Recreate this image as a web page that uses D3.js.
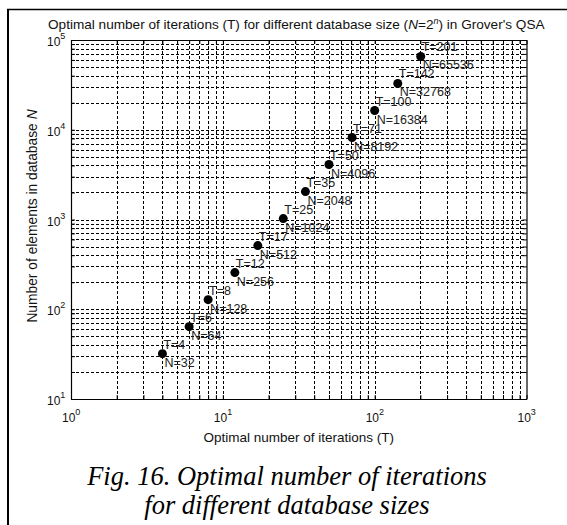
<!DOCTYPE html>
<html>
<head>
<meta charset="utf-8">
<script src="https://cdn.jsdelivr.net/npm/d3@7"></script>
<style>
body { margin: 0; background: #fff; }
svg { display: block; }
</style>
</head>
<body>
<div id="chart"></div>
<script>
// optimal iterations vs database size
var iterations = [4, 6, 8, 12, 17, 25, 35, 50, 71, 100, 142, 201];
var dbSize = [32, 64, 128, 256, 512, 1024, 2048, 4096, 8192, 16384, 32768, 65536];
var xDecades = [0, 1, 2, 3];
var yDecades = [1, 2, 3, 4, 5];

var width = 567, height = 525;
var margin = {left: 71, right: 40, top: 40, bottom: 126};

var svg = d3.select("#chart")
	.append("svg")
	.attr("width", width)
	.attr("height", height);

// outer frame (only top and left edges are visible)
svg.append("line").attr("x1", 7).attr("x2", width).attr("y1", 9.5).attr("y2", 9.5)
	.attr("stroke", "#000").attr("stroke-width", 1.5);
svg.append("line").attr("x1", 8).attr("x2", 8).attr("y1", 9).attr("y2", height)
	.attr("stroke", "#000").attr("stroke-width", 2);

var x = d3.scaleLog().domain([1, 1000]).range([margin.left, width - margin.right - 0.5]);
var y = d3.scaleLog().domain([10, 100000]).range([height - margin.bottom, margin.top]);

var g = svg.append("g");

// grid, major and minor, dotted
var xGrid = [], yGrid = [];
for (var d = 0; d < 3; d++)
	for (var k = 1; k <= 9; k++) xGrid.push(k * Math.pow(10, d));
for (var d = 1; d < 5; d++)
	for (var k = 1; k <= 9; k++) yGrid.push(k * Math.pow(10, d));
xGrid = xGrid.slice(1); yGrid = yGrid.slice(1);

g.selectAll(".xg").data(xGrid).enter().append("line")
	.attr("x1", function(d) { return Math.round(x(d)) + 0.5; })
	.attr("x2", function(d) { return Math.round(x(d)) + 0.5; })
	.attr("y1", y(10)).attr("y2", y(100000))
	.attr("stroke", "#000").attr("stroke-dasharray", "3,2");
g.selectAll(".yg").data(yGrid).enter().append("line")
	.attr("y1", function(d) { return Math.round(y(d)) + 0.5; })
	.attr("y2", function(d) { return Math.round(y(d)) + 0.5; })
	.attr("x1", x(1)).attr("x2", x(1000))
	.attr("stroke", "#000").attr("stroke-dasharray", "3,2");

// axes box with inside ticks
var xAxisB = d3.axisBottom(x).tickValues(xGrid.concat([1, 1000])).tickSizeInner(-4).tickSizeOuter(0).tickFormat("");
var xAxisT = d3.axisTop(x).tickValues(xGrid.concat([1, 1000])).tickSizeInner(-4).tickSizeOuter(0).tickFormat("");
var yAxisL = d3.axisLeft(y).tickValues(yGrid.concat([10, 100000])).tickSizeInner(-4).tickSizeOuter(0).tickFormat("");
var yAxisR = d3.axisRight(y).tickValues(yGrid.concat([10, 100000])).tickSizeInner(-4).tickSizeOuter(0).tickFormat("");
g.append("g").attr("transform", "translate(0," + y(10) + ")").call(xAxisB);
g.append("g").attr("transform", "translate(0," + y(100000) + ")").call(xAxisT);
g.append("g").attr("transform", "translate(" + x(1) + ",0)").call(yAxisL);
g.append("g").attr("transform", "translate(" + x(1000) + ",0)").call(yAxisR);
g.selectAll(".domain").attr("stroke", "#000").attr("stroke-width", 1.2);

// tick labels 10^n
var font = "Liberation Sans, Arial, sans-serif";
g.selectAll(".xl").data(xDecades).enter().append("text")
	.attr("x", function(d) { return x(Math.pow(10, d)) - 9; })
	.attr("y", y(10) + 23)
	.style("font-family", font).style("font-size", "12px").attr("fill", "#111")
	.each(function(d) {
		var t = d3.select(this);
		t.append("tspan").text("10");
		t.append("tspan").attr("dy", -7).style("font-size", "9px").text(d);
	});
g.selectAll(".yl").data(yDecades).enter().append("text")
	.attr("x", x(1) - 24)
	.attr("y", function(d) { return y(Math.pow(10, d)) + 6; })
	.style("font-family", font).style("font-size", "12px").attr("fill", "#111")
	.each(function(d) {
		var t = d3.select(this);
		t.append("tspan").text("10");
		t.append("tspan").attr("dy", -7).style("font-size", "9px").text(d);
	});

// points and their labels
g.selectAll(".pt").data(iterations).enter().append("circle")
	.attr("cx", function(d) { return x(d); })
	.attr("cy", function(d, i) { return y(dbSize[i]); })
	.attr("r", 4.5)
	.attr("fill", "#000");
g.selectAll(".tl").data(iterations).enter().append("text")
	.attr("x", function(d) { return x(d) + 1; })
	.attr("y", function(d, i) { return y(dbSize[i]) - 5; })
	.style("font-family", font).style("font-size", "12.5px").attr("fill", "#222")
	.text(function(d) { return "T=" + d; });
g.selectAll(".nl").data(iterations).enter().append("text")
	.attr("x", function(d) { return x(d) + 2; })
	.attr("y", function(d, i) { return y(dbSize[i]) + 13; })
	.style("font-family", font).style("font-size", "12.5px").attr("fill", "#222")
	.text(function(d, i) { return "N=" + dbSize[i]; });

// title
var title = svg.append("text")
	.attr("x", 48).attr("y", 29)
	.style("font-family", font).style("font-size", "13.6px").attr("fill", "#111");
title.append("tspan").text("Optimal number of iterations (T) for different database size (");
title.append("tspan").style("font-style", "italic").text("N");
title.append("tspan").text("=2");
title.append("tspan").attr("dy", -5).style("font-size", "9px").style("font-style", "italic").text("n");
title.append("tspan").attr("dy", 5).text(") in Grover's QSA");

// axis labels
svg.append("text")
	.attr("x", (x(1) + x(1000)) / 2).attr("y", 442)
	.attr("text-anchor", "middle")
	.style("font-family", font).style("font-size", "13.5px").attr("fill", "#111")
	.text("Optimal number of iterations (T)");
var yl = svg.append("text")
	.attr("transform", "translate(37,216) rotate(-90)")
	.attr("text-anchor", "middle")
	.style("font-family", font).style("font-size", "13.8px").attr("fill", "#111");
yl.append("tspan").text("Number of elements in database ");
yl.append("tspan").style("font-style", "italic").text("N");

// figure caption
var cap = ["Fig. 16. Optimal number of iterations", "for different database sizes"];
svg.selectAll(".cap").data(cap).enter().append("text")
	.attr("x", 287)
	.attr("y", function(d, i) { return 485 + i * 29; })
	.attr("text-anchor", "middle")
	.style("font-family", "Liberation Serif, Times New Roman, serif")
	.style("font-style", "italic").style("font-size", "26.5px").attr("fill", "#000")
	.text(function(d) { return d; });
</script>
</body>
</html>
